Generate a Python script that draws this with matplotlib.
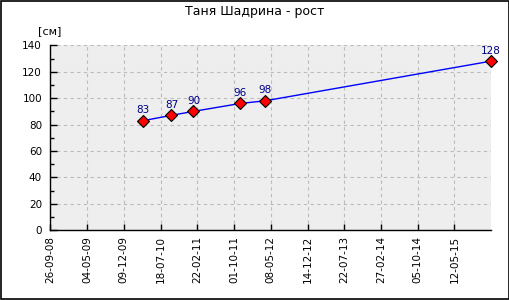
import matplotlib
matplotlib.use("Agg")
import matplotlib.pyplot as plt
import matplotlib.dates as mdates
from matplotlib.patches import Rectangle
import datetime as dt

# data
dates = ["2010-04-06", "2010-09-21", "2011-01-31", "2011-11-08", "2012-04-04", "2015-12-17"]
heights = [83, 87, 90, 96, 98, 128]
start_date = "2008-09-26"
tick_labels = ["26-09-08", "04-05-09", "09-12-09", "18-07-10", "22-02-11", "01-10-11",
               "08-05-12", "14-12-12", "22-07-13", "27-02-14", "05-10-14", "12-05-15"]
title = "Таня Шадрина - рост"
unit = "[см]"

x = [dt.datetime.strptime(d, "%Y-%m-%d") for d in dates]
x0 = dt.datetime.strptime(start_date, "%Y-%m-%d")
ticks = [dt.datetime.strptime(t, "%d-%m-%y") for t in tick_labels]

plt.rcParams['font.family'] = ['DejaVu Sans']
fig = plt.figure(figsize=(5.1, 3.0), dpi=100)
ax = fig.add_axes([0.0986, 0.2323, 0.8641, 0.6167])
ax.set_facecolor("#eeeeee")

ax.plot(x, heights, color="blue", lw=1, zorder=3)
ax.plot(x, heights, ls="none", marker="D", ms=6, mfc="red", mec="black", mew=0.8, zorder=4,
        clip_on=False)
for xi, h in zip(x, heights):
    ax.annotate(str(h), (xi, h), xytext=(0, 4), textcoords="offset points",
                ha="center", va="bottom", fontsize=7.5, color="#000088")

ax.set_xlim(x0, x[-1])
ax.set_ylim(0, 140)

ax.set_xticks(ticks)
ax.set_xticklabels(tick_labels)
ax.set_yticks(range(0, 141, 20))
ax.set_yticks(range(0, 141, 10), minor=True)

ax.tick_params(axis="x", direction="in", length=4, width=1, labelsize=7.5, rotation=90, pad=4)
ax.tick_params(axis="y", which="major", direction="in", length=5, width=1, labelsize=7.5, pad=6)
ax.tick_params(axis="y", which="minor", direction="in", length=3, width=1)

ax.grid(True, which="major", color="#bbbbbb", ls=(0, (3, 3)), lw=0.8)
ax.set_axisbelow(True)
for s in ["top", "right"]:
    ax.spines[s].set_visible(False)
for s in ["left", "bottom"]:
    ax.spines[s].set_linewidth(1.0)

fig.text(0.5, 0.96, title, ha="center", va="center", fontsize=9)
fig.text(0.075, 0.895, unit, ha="left", va="center", fontsize=8)

fig.patches.append(Rectangle((0.001, 0.002), 0.997, 0.996, transform=fig.transFigure,
                             fill=False, edgecolor="black", lw=1.2))

fig.savefig("out.png", dpi=100)
